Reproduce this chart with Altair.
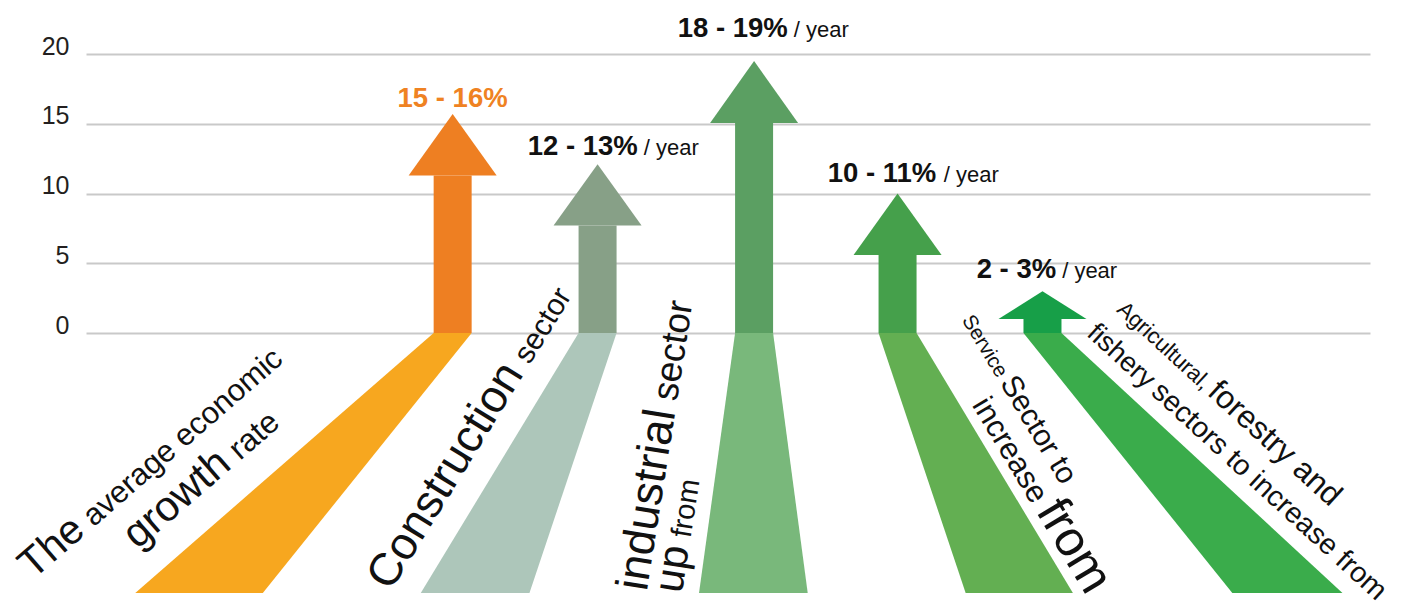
import math
import altair as alt
import pandas as pd

# ---------------- data ----------------
sectors = ["Average growth", "Construction", "Industrial", "Service", "Agri-forestry-fishery"]
low = [15, 12, 18, 10, 2]
high = [16, 13, 19, 11, 3]
tip = [15.7, 12.1, 19.5, 10.0, 3.0]          # arrow tip (value axis)
head_base = [11.3, 7.7, 15.05, 5.6, 1.0]     # where the arrow head starts
x_center = [1.0, 2.0, 3.08, 4.07, 5.07]      # category slot positions
fan_left = [-1.19, 0.78, 2.70, 4.54, 6.38]   # bottom of the lower "beam"
fan_right = [-0.31, 1.53, 3.45, 5.28, 7.14]
fan_bottom = -18.64
label_left = [0.62, 1.518, 2.553, 3.588, 4.616]
label_y = [16.2, 12.75, 21.2, 10.85, 3.95]
show_year = [False, True, True, True, True]
y_ticks = [0, 5, 10, 15, 20]

arrow_colors = ["#EE7F22", "#87A087", "#5B9F62", "#45A04B", "#179F48"]
fan_colors = ["#F7A71F", "#ADC6BA", "#79B87B", "#63AF52", "#3AAC4B"]
value_colors = ["#EF8222", "#111111", "#111111", "#111111", "#111111"]

label_lines = [
    dict(x=-1.895, y=-17.71, angle=319, runs=[("The", 48), ("average economic", 36)]),
    dict(x=-1.174, y=-15.56, angle=319, runs=[("growth", 49), ("rate", 37)]),
    dict(x=0.572, y=-18.57, angle=301.5, runs=[("Construction", 53), ("sector", 35)]),
    dict(x=2.339, y=-18.57, angle=279, runs=[("industrial", 53), ("sector", 43)]),
    dict(x=2.580, y=-18.71, angle=279, runs=[("up", 49), ("from", 34)]),
    dict(x=4.512, y=0.932, angle=59, runs=[("Service", 24), ("Sector to", 35)]),
    dict(x=4.581, y=-5.162, angle=59, runs=[("increase", 36), ("from", 58)]),
    dict(x=5.575, y=1.577, angle=42.5, runs=[("Agricultural,", 26), ("forestry and", 37)]),
    dict(x=5.368, y=-0.143, angle=42.5, runs=[("fishery", 32), ("sectors to increase from", 33.5)]),
]

# ---------------- layout ----------------
W, H = 1284, 597
XD = [-1.53, 7.33]
YD = [-19.5, 23.3]
PPX = W / (XD[1] - XD[0])
PPY = H / (YD[1] - YD[0])
SHAFT_HALF = 19 / PPX
HEAD_HALF = 44 / PPX
FONT = "Liberation Sans, Arial, sans-serif"
NARROW = 0.86   # sizes above are for a narrow face; scale to keep text widths close

AW = {" ": 278, "/": 278, "%": 889, "-": 333, ",": 278, "a": 556, "c": 500, "d": 556,
      "e": 556, "f": 278, "g": 556, "h": 556, "i": 222, "l": 222, "m": 833, "n": 556,
      "o": 556, "p": 556, "r": 333, "s": 500, "t": 278, "u": 556, "v": 500, "w": 722,
      "y": 500, "A": 667, "C": 722, "S": 667, "T": 611}


def text_w(s, size):
    return sum(AW.get(c, 556) for c in s) / 1000.0 * size


xs = alt.Scale(domain=XD, nice=False, zero=False)
ys = alt.Scale(domain=YD, nice=False, zero=False)
yaxis = alt.Axis(values=y_ticks, grid=True, gridColor="#C9C9C9", gridWidth=1.8,
                 domain=False, ticks=False, labelFont=FONT, labelFontSize=25,
                 labelColor="#231F20", labelPadding=17, labelBaseline="alphabetic",
                 title=None)

# lower beams
fan_rows = []
for i in range(len(sectors)):
    fan_rows.append(dict(cat=i, y=0, xl=x_center[i] - SHAFT_HALF, xr=x_center[i] + SHAFT_HALF, c=fan_colors[i]))
    fan_rows.append(dict(cat=i, y=fan_bottom, xl=fan_left[i], xr=fan_right[i], c=fan_colors[i]))
fan_df = pd.DataFrame(fan_rows)

shaft_df = pd.DataFrame(dict(
    cat=list(range(len(sectors))),
    xl=[c - SHAFT_HALF for c in x_center],
    xr=[c + SHAFT_HALF for c in x_center],
    y0=[0] * len(sectors),
    y1=head_base,
    c=arrow_colors,
))

head_rows = []
for i in range(len(sectors)):
    head_rows.append(dict(cat=i, y=head_base[i], xl=x_center[i] - HEAD_HALF, xr=x_center[i] + HEAD_HALF, c=arrow_colors[i]))
    head_rows.append(dict(cat=i, y=tip[i], xl=x_center[i], xr=x_center[i], c=arrow_colors[i]))
head_df = pd.DataFrame(head_rows)

# value labels
BOLD_SIZE = 27.5
YEAR_SIZE = 22
bold_rows, year_rows = [], []
for i in range(len(sectors)):
    t = f"{low[i]} - {high[i]}%"
    bold_rows.append(dict(x=label_left[i], y=label_y[i], t=t, c=value_colors[i]))
    if show_year[i]:
        year_rows.append(dict(x=label_left[i] + (text_w(t, BOLD_SIZE) + 6) / PPX, y=label_y[i], t="/ year"))
bold_df = pd.DataFrame(bold_rows)
year_df = pd.DataFrame(year_rows)

# rotated labels
rot_rows = []
for ln in label_lines:
    a = math.radians(ln["angle"])
    cum = 0.0
    for txt, size in ln["runs"]:
        fs = size * NARROW
        rot_rows.append(dict(x=ln["x"] + cum * math.cos(a) / PPX,
                             y=ln["y"] - cum * math.sin(a) / PPY,
                             t=txt, s=fs, ang=ln["angle"]))
        cum += text_w(txt, fs) + 0.22 * fs
rot_df = pd.DataFrame(rot_rows)

fans = alt.Chart(fan_df).mark_area(orient="horizontal").encode(
    y=alt.Y("y:Q", scale=ys, axis=yaxis),
    x=alt.X("xl:Q", scale=xs, axis=None, stack=None),
    x2="xr:Q",
    detail="cat:N",
    color=alt.Color("c:N", scale=None),
)

shafts = alt.Chart(shaft_df).mark_rect().encode(
    x=alt.X("xl:Q", scale=xs, axis=None),
    x2="xr:Q",
    y=alt.Y("y0:Q", scale=ys, axis=yaxis),
    y2="y1:Q",
    color=alt.Color("c:N", scale=None),
)

heads = alt.Chart(head_df).mark_area(orient="horizontal").encode(
    y=alt.Y("y:Q", scale=ys, axis=yaxis),
    x=alt.X("xl:Q", scale=xs, axis=None, stack=None),
    x2="xr:Q",
    detail="cat:N",
    color=alt.Color("c:N", scale=None),
)

bold_txt = alt.Chart(bold_df).mark_text(
    font=FONT, fontWeight="bold", fontSize=BOLD_SIZE, align="left", baseline="alphabetic"
).encode(
    x=alt.X("x:Q", scale=xs, axis=None),
    y=alt.Y("y:Q", scale=ys, axis=yaxis),
    text="t:N",
    color=alt.Color("c:N", scale=None),
)

year_txt = alt.Chart(year_df).mark_text(
    font=FONT, fontSize=YEAR_SIZE, align="left", baseline="alphabetic", color="#111111"
).encode(
    x=alt.X("x:Q", scale=xs, axis=None),
    y=alt.Y("y:Q", scale=ys, axis=yaxis),
    text="t:N",
)

rot_txt = alt.Chart(rot_df).mark_text(
    font=FONT, align="left", baseline="alphabetic", color="#111111"
).encode(
    x=alt.X("x:Q", scale=xs, axis=None),
    y=alt.Y("y:Q", scale=ys, axis=yaxis),
    text="t:N",
    size=alt.Size("s:Q", scale=None),
    angle=alt.Angle("ang:Q", scale=None),
)

chart = alt.layer(fans, shafts, heads, bold_txt, year_txt, rot_txt).properties(
    width=W, height=H,
    background="white",
    autosize=alt.AutoSizeParams(type="none"),
    padding={"left": 78, "top": 0, "right": 36, "bottom": 6},
).configure_view(strokeWidth=0, stroke="transparent")

chart.save("out.html", embed_options={"renderer": "svg", "actions": False})
